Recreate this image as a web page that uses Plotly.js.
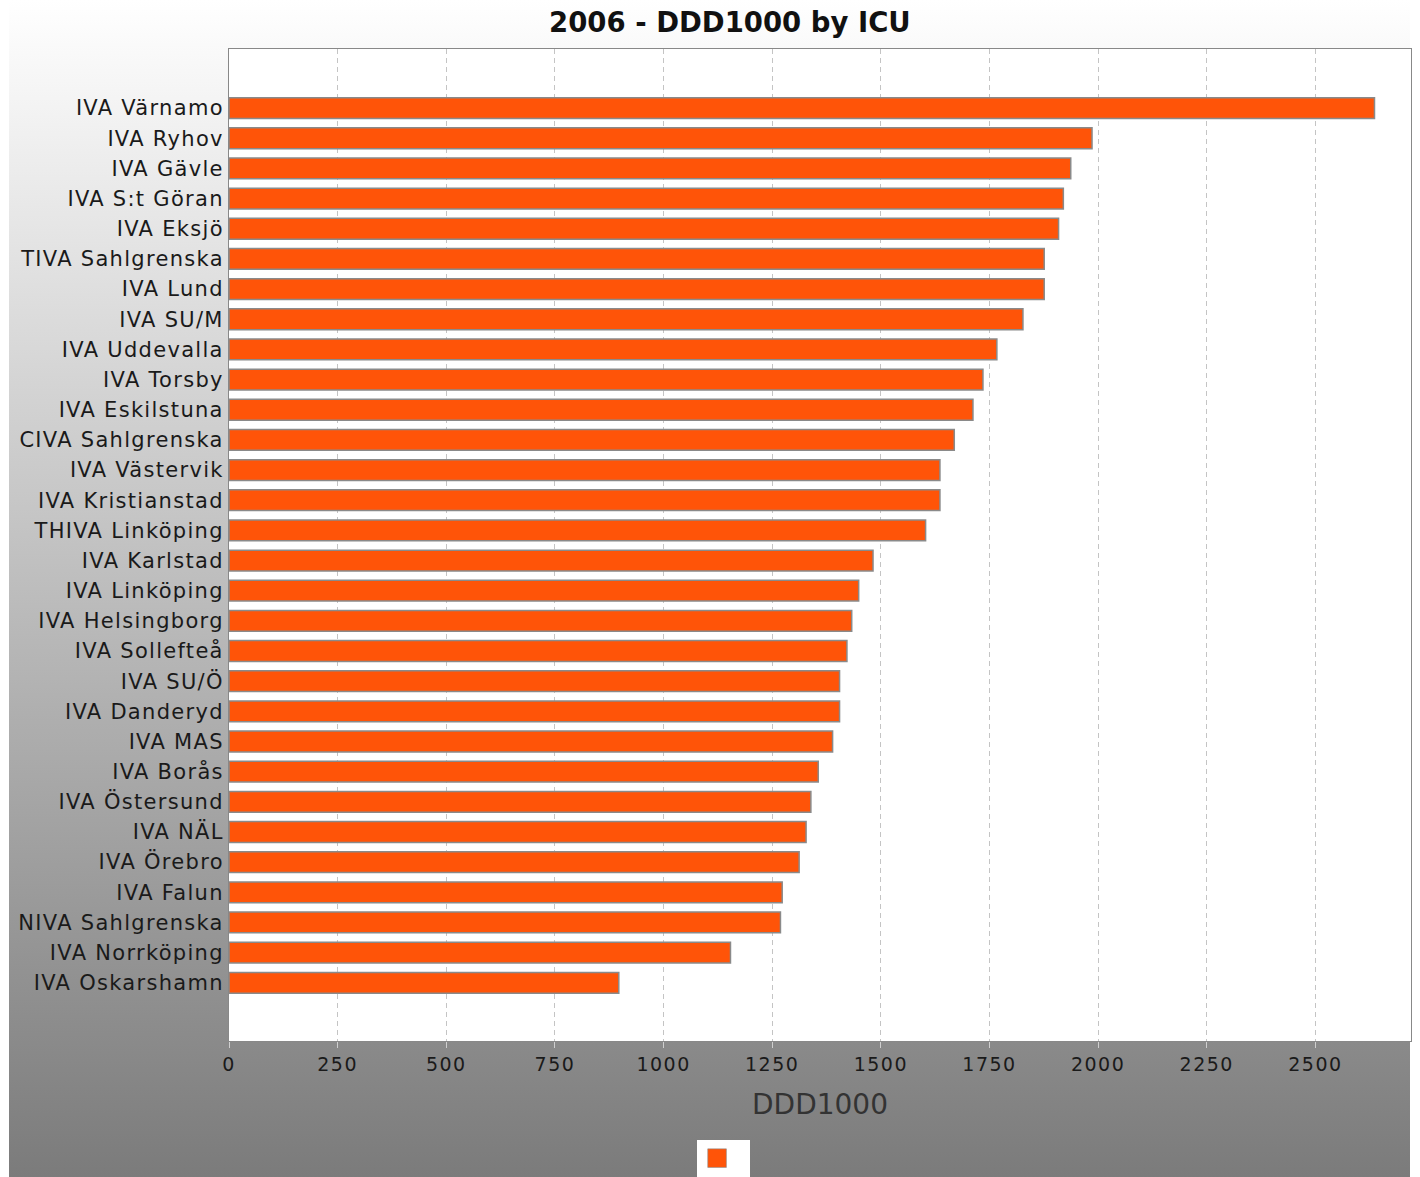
<!DOCTYPE html>
<html><head><meta charset="utf-8">
<script src="https://cdn.plot.ly/plotly-3.0.1.min.js"></script>
<style>
html,body{margin:0;padding:0;background:#fff;}
#wrap{position:relative;width:1420px;height:1177px;overflow:hidden;}
#bg{position:absolute;left:9px;top:0;width:1401px;height:1177px;background:linear-gradient(to bottom,#ffffff 0%,#7b7b7b 100%);}
#chart{position:absolute;left:0;top:0;width:1420px;height:1177px;}
#chart .ytick text{letter-spacing:1.3px;}
#chart .xtick text{letter-spacing:1.5px;}
#chart .legendpoints path{transform:translate(20px,-4px) scale(1.55);stroke-width:0.4px !important;}
</style></head>
<body><div id="wrap"><div id="bg"></div><div id="chart"></div></div>
<script>
const categories = [
  "IVA Värnamo","IVA Ryhov","IVA Gävle","IVA S:t Göran","IVA Eksjö",
  "TIVA Sahlgrenska","IVA Lund","IVA SU/M","IVA Uddevalla","IVA Torsby",
  "IVA Eskilstuna","CIVA Sahlgrenska","IVA Västervik","IVA Kristianstad","THIVA Linköping",
  "IVA Karlstad","IVA Linköping","IVA Helsingborg","IVA Sollefteå","IVA SU/Ö",
  "IVA Danderyd","IVA MAS","IVA Borås","IVA Östersund","IVA NÄL",
  "IVA Örebro","IVA Falun","NIVA Sahlgrenska","IVA Norrköping","IVA Oskarshamn"
];
const values = [
  2636,1986,1937,1920,1909,
  1876,1876,1827,1767,1735,
  1712,1669,1636,1636,1603,
  1482,1449,1433,1422,1405,
  1405,1389,1356,1339,1328,
  1312,1273,1269,1154,897
];
const xTicks = [0,250,500,750,1000,1250,1500,1750,2000,2250,2500];
const chartTitle = "2006 - DDD1000 by ICU";
const xTitle = "DDD1000";
const seriesName = " ";

const trace = {
  type: "bar",
  orientation: "h",
  x: values,
  y: categories,
  name: seriesName,
  width: 0.69,
  marker: {color: "#ff5408", line: {color: "#8a8a8a", width: 1.5}},
  hoverinfo: "x+y",
  showlegend: true
};

const layout = {
  width: 1420, height: 1177,
  margin: {l: 229, r: 9, t: 49, b: 136, pad: 0},
  paper_bgcolor: "rgba(0,0,0,0)",
  plot_bgcolor: "#ffffff",
  font: {family: "DejaVu Sans, sans-serif", color: "#222"},
  title: {
    text: chartTitle,
    font: {family: "DejaVu Sans, sans-serif", size: 27.5, weight: "bold", color: "#111"},
    x: 0.514, xref: "container", xanchor: "center",
    y: 0.981, yref: "container", yanchor: "middle"
  },
  xaxis: {
    range: [0, 2720],
    tickmode: "array", tickvals: xTicks, ticktext: xTicks.map(String),
    showgrid: true, gridcolor: "#c4c4c4", gridwidth: 1, griddash: "5px,4px",
    zeroline: false,
    showline: true, mirror: true, linecolor: "#888888", linewidth: 1,
    ticks: "outside", ticklen: 6, tickcolor: "#cfcfcf", tickwidth: 1,
    tickfont: {family: "DejaVu Sans, sans-serif", size: 19, color: "#1a1a1a"},
    title: {text: xTitle, font: {family: "DejaVu Sans, sans-serif", size: 28, color: "#333"}, standoff: 20},
    automargin: false, fixedrange: true
  },
  yaxis: {
    type: "category",
    categoryorder: "array", categoryarray: categories,
    range: [30.93, -1.96],
    showgrid: false, zeroline: false,
    showline: true, mirror: true, linecolor: "#888888", linewidth: 1,
    ticks: "", ticklabelstandoff: 0,
    tickfont: {family: "DejaVu Sans, sans-serif", size: 21, color: "#1a1a1a"},
    automargin: false, fixedrange: true
  },
  showlegend: true,
  legend: {
    x: 0.396, xanchor: "left", xref: "paper",
    y: 0.0314, yanchor: "top", yref: "container",
    bgcolor: "#ffffff", borderwidth: 0,
    font: {size: 24}, itemwidth: 30
  },
  bargap: 0.3
};

Plotly.newPlot("chart", [trace], layout, {staticPlot: true, displayModeBar: false});
</script>
</body></html>
